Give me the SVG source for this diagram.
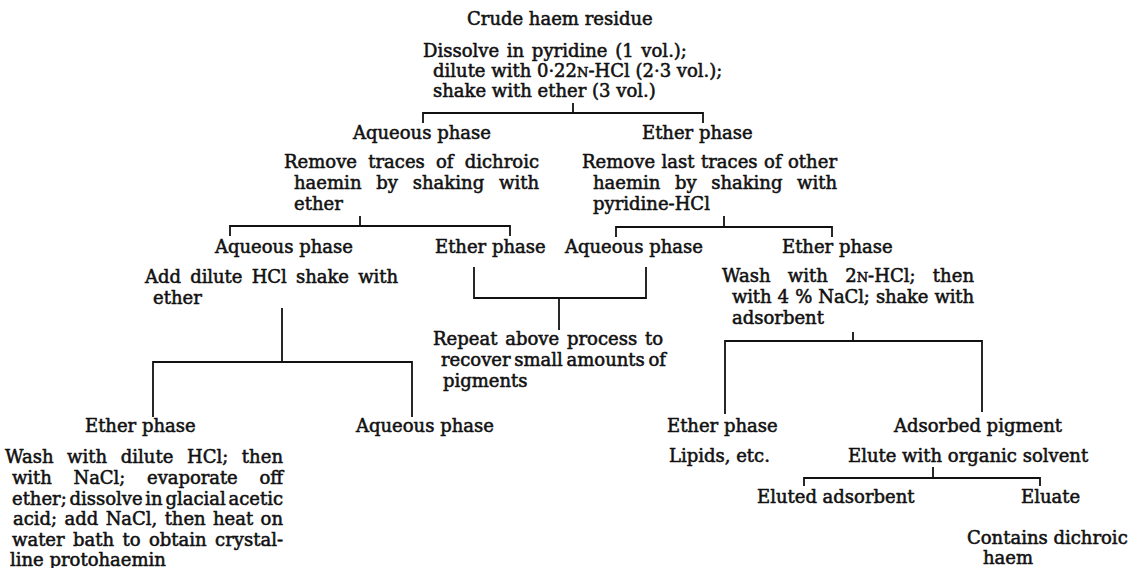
<svg xmlns="http://www.w3.org/2000/svg" width="1138" height="568" viewBox="0 0 1138 568">
<style>
text{font-family:"DejaVu Serif","Liberation Serif",serif;font-size:18px;fill:#111;stroke:#111;stroke-width:0.55}
.sc{font-size:13px}
.conn path{fill:none;stroke:#111;stroke-width:1.8}
</style>
<rect width="1138" height="568" fill="#fff"/>
<g class="conn" id="connectors">
<path d="M573 103V113M423 123V113H703V123"/>
<path d="M360 216V226M230 236V226H510V236"/>
<path d="M724 216V227M616 237V227H832V237"/>
<path d="M282 308V362M153 417V362H412V417"/>
<path d="M474 267V298H646V267M559 298V330"/>
<path d="M853 332V341M725 414V341H982V412"/>
<path d="M933 467V478M804 486V478H1040V486"/>
</g>
<g id="n_crude"><text x="467" y="25">Crude haem residue</text></g>
<g id="n_dissolve">
<text x="423" y="57" word-spacing="2">Dissolve in pyridine (1 vol.);</text>
<text x="433" y="77">dilute with 0·22<tspan class="sc">N</tspan>-HCl (2·3 vol.);</text>
<text x="433" y="97">shake with ether (3 vol.)</text>
</g>
<g id="n_aq1"><text x="353" y="139">Aqueous phase</text>
<text x="284" y="168" word-spacing="5.4" textLength="255" lengthAdjust="spacing">Remove traces of dichroic</text>
<text x="294" y="189" word-spacing="9" textLength="245" lengthAdjust="spacing">haemin by shaking with</text>
<text x="294" y="210">ether</text>
</g>
<g id="n_et1"><text x="642" y="139">Ether phase</text>
<text x="582" y="168" word-spacing="0.7" textLength="255" lengthAdjust="spacing">Remove last traces of other</text>
<text x="593" y="189" word-spacing="9" textLength="244" lengthAdjust="spacing">haemin by shaking with</text>
<text x="593" y="210">pyridine-HCl</text>
</g>
<g id="n_aq2"><text x="215" y="253">Aqueous phase</text>
<text x="145" y="283" word-spacing="3.6" textLength="253" lengthAdjust="spacing">Add dilute HCl shake with</text>
<text x="153" y="304">ether</text>
</g>
<g id="n_et2"><text x="435" y="253">Ether phase</text></g>
<g id="n_aq3"><text x="565" y="253">Aqueous phase</text></g>
<g id="n_repeat">
<text x="433" y="345" word-spacing="2" textLength="230" lengthAdjust="spacing">Repeat above process to</text>
<text x="441" y="366" word-spacing="-2" textLength="225" lengthAdjust="spacing">recover small amounts of</text>
<text x="443" y="387">pigments</text>
</g>
<g id="n_et3"><text x="782" y="253">Ether phase</text>
<text x="722" y="282" word-spacing="11.5" textLength="252" lengthAdjust="spacing">Wash with 2<tspan class="sc">N</tspan>-HCl; then</text>
<text x="732" y="303" word-spacing="0.7" textLength="242" lengthAdjust="spacing">with 4 % NaCl; shake with</text>
<text x="732" y="324">adsorbent</text>
</g>
<g id="n_et4"><text x="85" y="432">Ether phase</text>
<text x="5" y="463" word-spacing="7.7" textLength="278" lengthAdjust="spacing">Wash with dilute HCl; then</text>
<text x="12" y="484" word-spacing="16" textLength="271" lengthAdjust="spacing">with NaCl; evaporate off</text>
<text x="12" y="504.5" word-spacing="-3" textLength="271" lengthAdjust="spacing">ether; dissolve in glacial acetic</text>
<text x="13" y="525" word-spacing="1.8" textLength="270" lengthAdjust="spacing">acid; add NaCl, then heat on</text>
<text x="12" y="546" word-spacing="2.7" textLength="271" lengthAdjust="spacing">water bath to obtain crystal-</text>
<text x="10" y="566">line protohaemin</text>
</g>
<g id="n_aq4"><text x="356" y="432">Aqueous phase</text></g>
<g id="n_et5"><text x="667" y="432">Ether phase</text>
<text x="669" y="462">Lipids, etc.</text>
</g>
<g id="n_ads"><text x="894" y="432">Adsorbed pigment</text>
<text x="848" y="462">Elute with organic solvent</text>
</g>
<g id="n_eluted"><text x="757" y="503">Eluted adsorbent</text></g>
<g id="n_eluate"><text x="1021" y="503">Eluate</text>
<text x="967" y="544">Contains dichroic</text>
<text x="983" y="564">haem</text>
</g>
</svg>
